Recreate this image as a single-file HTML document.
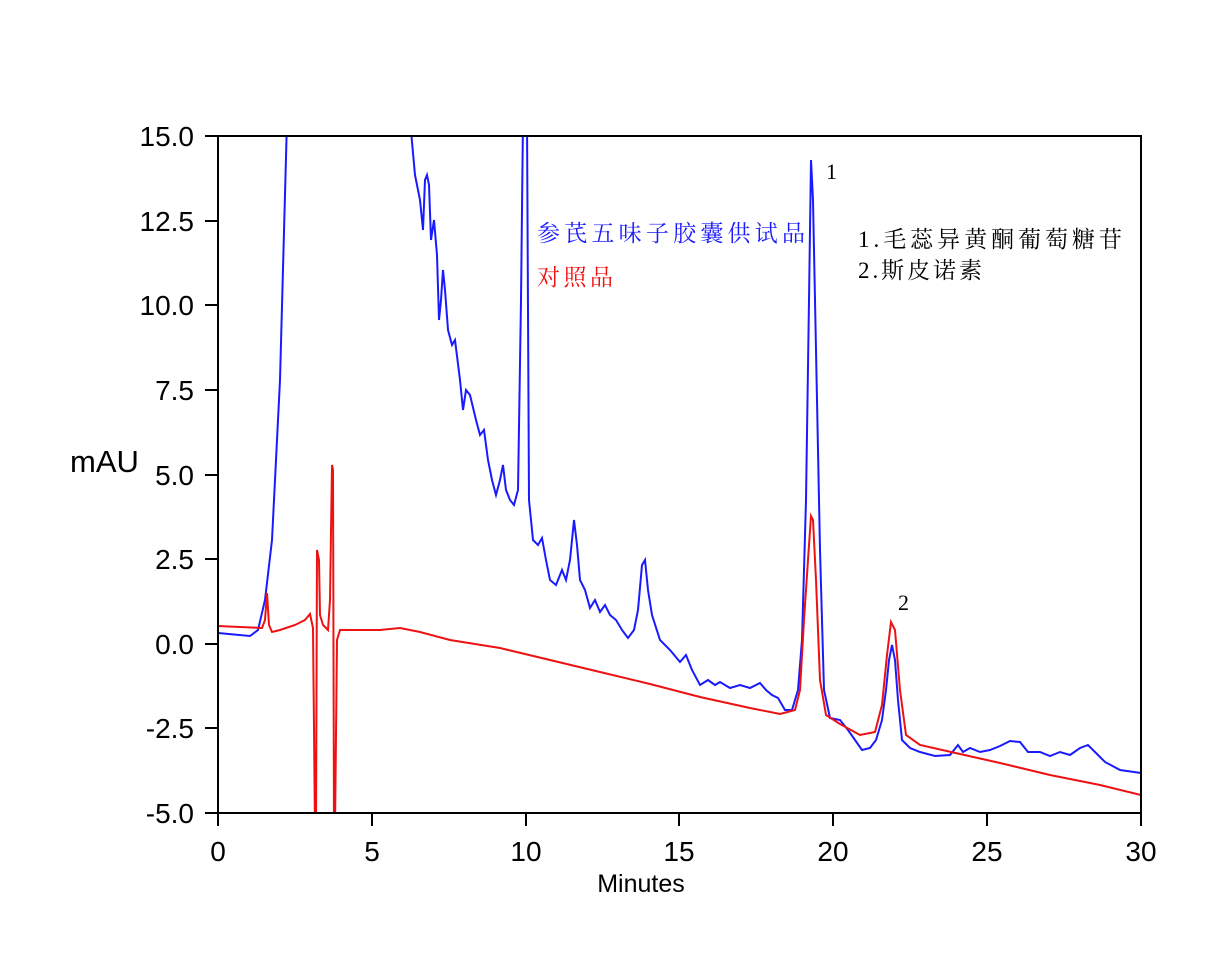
<!DOCTYPE html>
<html><head><meta charset="utf-8"><style>
html,body{margin:0;padding:0;background:#fff;}
svg{display:block;}
.t{font-family:"Liberation Sans",sans-serif;font-size:28px;fill:#000;}
.c{font-family:"Liberation Serif","Noto Serif CJK SC",serif;font-size:23px;}
</style></head><body>
<svg width="1230" height="970" viewBox="0 0 1230 970" xmlns="http://www.w3.org/2000/svg">
<defs><clipPath id="cp"><rect x="218" y="136" width="923" height="677"/></clipPath></defs>
<g clip-path="url(#cp)" fill="none" stroke-width="2">
<polyline stroke="#1a1aff" points="218,633 250,636 258,630 265,600 272,540 280,380 287,120 410,120 415,175 420,200 423,230 425,180 427,175 429,185 431,240 434,220 437,255 439,320 441,300 443,270 445,290 448,330 452,345 455,340 460,380 463,410 466,390 470,395 476,420 480,435 484,430 488,460 492,480 496,495 500,480 503,465 506,490 510,500 514,505 518,490 521,300 523,120 527,120 529,500 533,540 538,545 542,538 546,560 550,580 556,585 562,570 566,580 570,560 574,520 577,545 580,580 585,590 590,608 595,600 600,612 605,605 610,615 616,620 622,630 628,638 634,630 638,610 642,565 645,560 648,590 652,615 660,640 670,650 680,662 686,655 692,670 700,685 708,680 715,685 720,682 730,688 740,685 750,688 760,683 766,690 772,695 778,698 785,710 792,710 798,690 802,640 806,500 809,300 811,160 813,200 816,350 820,550 824,690 830,718 840,720 848,730 855,740 862,750 870,748 876,740 882,720 886,690 889,660 892,645 895,660 898,700 902,740 910,748 920,752 935,756 950,755 958,745 963,752 970,748 980,752 990,750 1000,746 1010,741 1020,742 1028,752 1040,752 1050,756 1060,752 1070,755 1080,748 1088,745 1095,752 1105,762 1120,770 1141,773"/>
<polyline stroke="#ee1111" points="218,626 240,627 262,628 265,620 267,593 269,625 272,632 280,630 295,625 305,620 310,614 313,628 315,830 316,830 317,550 319,560 320,615 323,625 328,630 330,600 332,465 333,470 334,830 335,830 337,640 340,630 360,630 380,630 400,628 420,632 450,640 500,648 550,660 600,672 650,684 700,697 750,708 780,714 795,710 800,690 804,620 808,560 811,516 813,520 816,580 820,680 826,715 840,724 860,735 875,732 882,705 887,655 891,622 895,630 900,690 906,735 920,745 960,754 1000,763 1050,775 1100,785 1141,795"/>
</g>
<rect x="218" y="136" width="923" height="677" fill="none" stroke="#000" stroke-width="2"/>
<g stroke="#000" stroke-width="2">
<line x1="205" y1="136" x2="218" y2="136"/><line x1="205" y1="221" x2="218" y2="221"/><line x1="205" y1="305" x2="218" y2="305"/><line x1="205" y1="390" x2="218" y2="390"/><line x1="205" y1="475" x2="218" y2="475"/><line x1="205" y1="559" x2="218" y2="559"/><line x1="205" y1="644" x2="218" y2="644"/><line x1="205" y1="728" x2="218" y2="728"/><line x1="205" y1="813" x2="218" y2="813"/>
<line x1="218" y1="813" x2="218" y2="826"/><line x1="372" y1="813" x2="372" y2="826"/><line x1="526" y1="813" x2="526" y2="826"/><line x1="679" y1="813" x2="679" y2="826"/><line x1="833" y1="813" x2="833" y2="826"/><line x1="987" y1="813" x2="987" y2="826"/><line x1="1141" y1="813" x2="1141" y2="826"/>
</g>
<g class="t" text-anchor="end">
<text x="194" y="146">15.0</text><text x="194" y="231">12.5</text><text x="194" y="315">10.0</text><text x="194" y="400">7.5</text><text x="194" y="485">5.0</text><text x="194" y="569">2.5</text><text x="194" y="654">0.0</text><text x="194" y="738">-2.5</text><text x="194" y="823">-5.0</text>
</g>
<g class="t" text-anchor="middle">
<text x="218" y="861">0</text><text x="372" y="861">5</text><text x="526" y="861">10</text><text x="679" y="861">15</text><text x="833" y="861">20</text><text x="987" y="861">25</text><text x="1141" y="861">30</text>
<text x="641" y="892" style="font-size:25px">Minutes</text>
</g>
<text class="t" x="70" y="472" style="font-size:31px">mAU</text>
<text class="c" x="537" y="241" fill="#1a1aff" textLength="268" lengthAdjust="spacing">参芪五味子胶囊供试品</text>
<text class="c" x="537" y="285" fill="#ee1111" textLength="76" lengthAdjust="spacing">对照品</text>
<text class="c" x="858" y="247" fill="#000" textLength="264" lengthAdjust="spacing">1.毛蕊异黄酮葡萄糖苷</text>
<text class="c" x="858" y="278" fill="#000" textLength="124" lengthAdjust="spacing">2.斯皮诺素</text>
<text class="c" x="826" y="179" fill="#000" style="font-size:22px">1</text>
<text class="c" x="898" y="610" fill="#000" style="font-size:22px">2</text>
</svg>
</body></html>
